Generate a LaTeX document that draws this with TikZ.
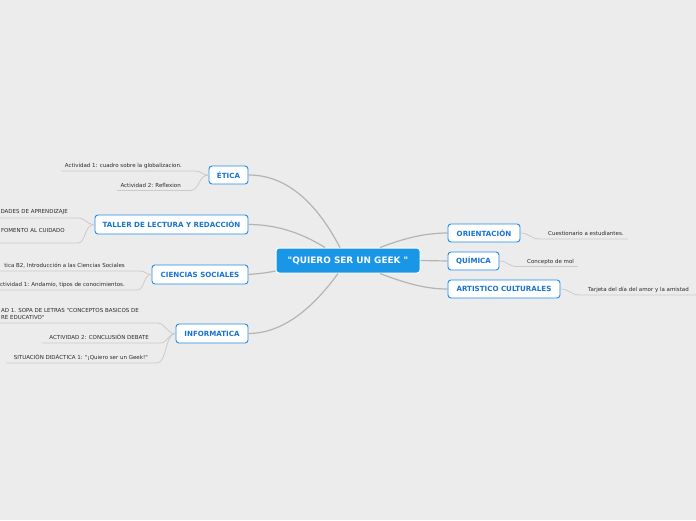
\documentclass[tikz,border=0pt]{standalone}
\usepackage{fontspec}
\setmainfont{DejaVu Sans}[Ligatures=TeXOff]
\usetikzlibrary{calc}
\definecolor{bg}{HTML}{ECECEC}
\definecolor{nodeblue}{HTML}{1F8CE6}
\definecolor{textblue}{HTML}{1873D3}
\definecolor{cenblue}{HTML}{1A96E6}
\definecolor{mainline}{HTML}{B4B4B4}
\definecolor{leafline}{HTML}{CACACA}
\definecolor{leaftext}{HTML}{2A2A2A}
\tikzset{
  topic/.style={draw=nodeblue, line width=0.9pt, fill=white, rounded corners=3pt,
    text=textblue, font=\fontsize{7.1}{8}\selectfont\bfseries, inner sep=0pt, minimum height=18pt},
  central/.style={draw=white, line width=1pt, fill=cenblue, rounded corners=3pt,
    text=white, font=\fontsize{8.9}{10}\selectfont\bfseries, inner sep=0pt,
    minimum width=144pt, minimum height=25pt},
  leaf/.style={text=leaftext, font=\fontsize{5.5}{6.8}\selectfont, inner sep=0pt},
  mainconn/.style={draw=mainline, line width=1.2pt},
  leafconn/.style={draw=leafline, line width=0.8pt},
}
\begin{document}
\begin{tikzpicture}[x=1pt,y=-1pt]
\useasboundingbox (0,0) rectangle (696,520);
\fill[bg] (0,0) rectangle (696,520);
\clip (0,0) rectangle (696,520);

% central and topics
\node[central] (cen) at (348,260.5) {"QUIERO SER UN GEEK "};
\node[topic, minimum width=39pt] (eti) at (228.5,175) {ÉTICA};
\node[topic, minimum width=153pt, minimum height=19pt] (tal) at (171.5,224.5) {TALLER DE LECTURA Y REDACCIÓN};
\node[topic, minimum width=96pt, minimum height=19pt] (cie) at (200,274.5) {CIENCIAS SOCIALES};
\node[topic, minimum width=72pt, minimum height=19pt] (inf) at (212,333.5) {INFORMATICA};
\node[topic, minimum width=72pt] (ori) at (484,233) {ORIENTACIÓN};
\node[topic, minimum width=51pt] (qui) at (473.5,261) {QUÍMICA};
\node[topic, minimum width=112pt] (art) at (504,289) {ARTISTICO CULTURALES};

% main connectors
\draw[mainconn] ($(cen.north)+(-8,0)$) .. controls (315,200) and (285,175) .. (eti.east);
\draw[mainconn] ($(cen.north)+(-23,0)$) .. controls (300,232) and (275,224.5) .. (tal.east);
\draw[mainconn] ($(cen.west)+(0,10.5)$) .. controls (265,273) .. (cie.east);
\draw[mainconn] ($(cen.south)+(-10,0)$) .. controls (310,312) and (280,333.5) .. (inf.east);
\draw[mainconn] ($(cen.north)+(32,0)$) .. controls (405,238) and (425,233) .. (ori.west);
\draw[mainconn] (cen.east) -- (qui.west);
\draw[mainconn] ($(cen.south)+(32,0)$) .. controls (405,283) and (425,289) .. (art.west);

% ETICA leaves
\node[leaf, anchor=base east] (e1) at (182,167) {Actividad 1: cuadro sobre la globalizacion.};
\coordinate (e1a) at (61,171); \coordinate (e1b) at (195,171);
\draw[leafconn] (eti.west) .. controls (201,175) and (202,171) .. (e1b) -- (e1a);
\node[leaf, anchor=base east] (e2) at (181,187) {Actividad 2: Reflexion};
\coordinate (e2a) at (117,190.5); \coordinate (e2b) at (190,190.5);
\draw[leafconn] (eti.west) .. controls (198,175) and (200,190.5) .. (e2b) -- (e2a);

% TALLER leaves
\node[leaf, anchor=base east] (t1) at (68,213) {DADES DE APRENDIZAJE};
\coordinate (t1a) at (-5,218); \coordinate (t1b) at (78,218);
\draw[leafconn] (tal.west) .. controls (86,224.5) and (86,218) .. (t1b) -- (t1a);
\node[leaf, anchor=base east] (t2) at (65,232) {FOMENTO AL CUIDADO};
\coordinate (t2a) at (-5,243); \coordinate (t2b) at (78,243);
\draw[leafconn] (tal.west) .. controls (84,224.5) and (86,243) .. (t2b) -- (t2a);

% CIENCIAS leaves
\node[leaf, anchor=base east] (c1) at (125,267) {tica B2, Introducción a las Ciencias Sociales};
\coordinate (c1a) at (-5,271); \coordinate (c1b) at (140,271);
\draw[leafconn] (cie.west) .. controls (145,274.5) and (146,271) .. (c1b) -- (c1a);
\node[leaf, anchor=base east] (c2) at (125,286) {ctividad 1: Andamio, tipos de conocimientos.};
\coordinate (c2a) at (-5,290); \coordinate (c2b) at (137,290);
\draw[leafconn] (cie.west) .. controls (143,274.5) and (145,290) .. (c2b) -- (c2a);

% INFORMATICA leaves
\node[leaf, anchor=north east, align=left] (i1) at (139,308.5) {AD 1. SOPA DE LETRAS "CONCEPTOS BASICOS DE\\RE EDUCATIVO"};
\coordinate (i1a) at (-5,323); \coordinate (i1b) at (157,323);
\draw[leafconn] (inf.west) .. controls (166,333.5) and (166,323) .. (i1b) -- (i1a);
\node[leaf, anchor=base east] (i2) at (149,339) {ACTIVIDAD 2: CONCLUSIÓN DEBATE};
\coordinate (i2a) at (42,343); \coordinate (i2b) at (160,343);
\draw[leafconn] (inf.west) .. controls (168,333.5) and (168,343) .. (i2b) -- (i2a);
\node[leaf, anchor=base east] (i3) at (148,359) {SITUACIÓN DIDÁCTICA 1: "¡Quiero ser un Geek!"};
\coordinate (i3a) at (6,363); \coordinate (i3b) at (157,363);
\draw[leafconn] (inf.west) .. controls (165,333.5) and (167,363) .. (i3b) -- (i3a);

% right leaves
\node[leaf, anchor=base west] (o1) at (548,235) {Cuestionario a estudiantes.};
\coordinate (o1a) at (540,239); \coordinate (o1b) at (628,239);
\draw[leafconn] (ori.east) .. controls (530,233) and (530,239) .. (o1a) -- (o1b);
\node[leaf, anchor=base west] (q1) at (527,263) {Concepto de mol};
\coordinate (q1a) at (517,266.5); \coordinate (q1b) at (578,266.5);
\draw[leafconn] (qui.east) .. controls (508,261) and (508,266.5) .. (q1a) -- (q1b);
\node[leaf, anchor=base west] (a1) at (588,291) {Tarjeta del día del amor y la amistad};
\coordinate (a1a) at (580,295); \coordinate (a1b) at (700,295);
\draw[leafconn] (art.east) .. controls (570,289) and (570,295) .. (a1a) -- (a1b);
\end{tikzpicture}
\end{document}
